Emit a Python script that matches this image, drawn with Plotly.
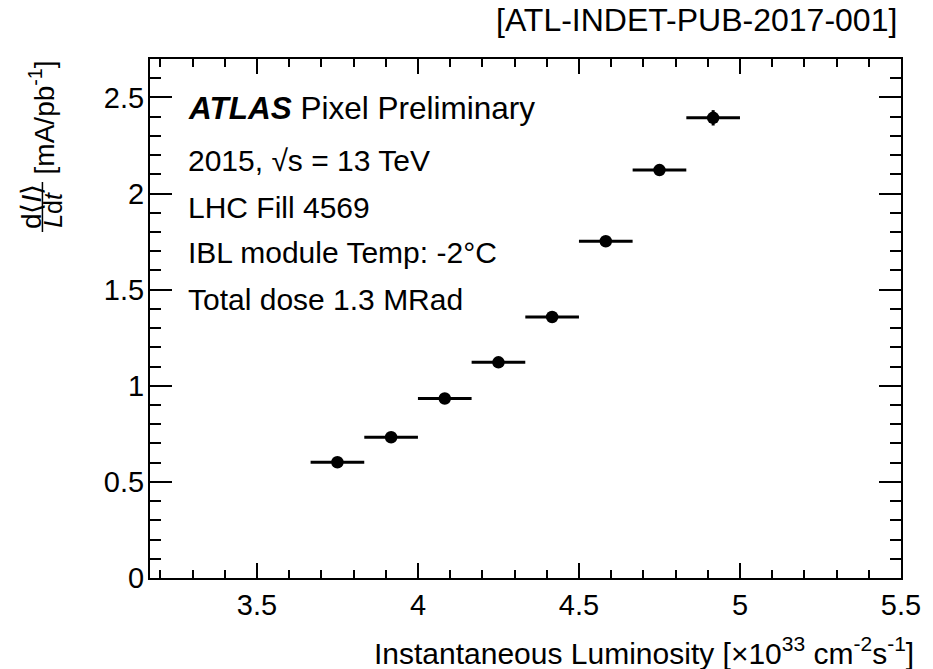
import plotly.graph_objects as go

# Measured leakage-current slope per luminosity bin (LHC Fill 4569)
lumi_centers = [3.75, 3.9167, 4.0833, 4.25, 4.4167, 4.5833, 4.75, 4.9167]
lumi_halfwidth = [0.0833, 0.0833, 0.0833, 0.0833, 0.0833, 0.0833, 0.0833, 0.0833]
current_slope = [0.602, 0.732, 0.934, 1.122, 1.358, 1.752, 2.122, 2.394]
current_err = [0.012, 0.012, 0.014, 0.015, 0.018, 0.022, 0.026, 0.04]

x_ticks = [3.5, 4.0, 4.5, 5.0, 5.5]
y_ticks = [0, 0.5, 1.0, 1.5, 2.0, 2.5]

FONT = "Liberation Sans, Arial, Helvetica, sans-serif"
W, H = 933, 669
ML, MR, MT, MB = 150, 22, 59, 91
PW, PH = W - ML - MR, H - MT - MB


def px(xp):
    return (xp - ML) / PW


def py(yp):
    return (H - MB - yp) / PH


fig = go.Figure()
fig.add_trace(go.Scatter(
    x=lumi_centers, y=current_slope, mode="markers",
    marker=dict(color="black", size=12.5, symbol="circle"),
    error_x=dict(type="data", array=lumi_halfwidth, symmetric=True,
                 color="black", thickness=3, width=0),
    error_y=dict(type="data", array=current_err, symmetric=True,
                 color="black", thickness=3, width=0),
    showlegend=False,
))

axis_common = dict(
    showline=True, linecolor="black", linewidth=2, mirror="ticks",
    ticks="inside", tickcolor="black", tickwidth=1.6,
    showgrid=False, zeroline=False,
    tickfont=dict(family=FONT, size=29, color="black"),
)

fig.update_xaxes(
    range=[3.168, 5.5], tickvals=x_ticks,
    ticktext=["3.5", "4", "4.5", "5", "5.5"], ticklen=15,
    ticklabelstandoff=0,
    minor=dict(dtick=0.1, tick0=3.0, ticks="inside", ticklen=8,
               tickwidth=1.6, tickcolor="black", showgrid=False),
    **axis_common,
)
fig.update_yaxes(
    range=[0, 2.7], tickvals=y_ticks,
    ticktext=["0", "0.5", "1", "1.5", "2", "2.5"], ticklen=22,
    ticklabelstandoff=-2,
    minor=dict(dtick=0.1, tick0=0, ticks="inside", ticklen=11,
               tickwidth=1.6, tickcolor="black", showgrid=False),
    **axis_common,
)

ann = []


def text(x, y, s, size, xanchor="left", yanchor="middle", angle=0):
    ann.append(dict(x=px(x), y=py(y), xref="paper", yref="paper", text=s,
                    showarrow=False, xanchor=xanchor, yanchor=yanchor,
                    textangle=angle,
                    font=dict(family=FONT, size=size, color="black")))


# Header lines inside the frame
text(186, 108, "<b><i>ATLAS</i></b> Pixel Preliminary", 31.5)
text(186, 160, "2015, √s = 13 TeV", 30)
text(186, 208, "LHC Fill 4569", 30)
text(186, 253, "IBL module Temp: -2°C", 30)
text(186, 299, "Total dose 1.3 MRad", 30)

# Reference tag
text(909, 20, "[ATL-INDET-PUB-2017-001]", 32, xanchor="right")

# X axis title
text(926, 651, "Instantaneous Luminosity [×10<sup>33</sup> cm<sup>-2</sup>s<sup>-1</sup>]",
     30, xanchor="right")

# Y axis title: fraction d<I>/(L dt) followed by units
text(29.5, 207, "d⟨<i>I</i>⟩", 28, xanchor="center", angle=-90)
text(51.5, 210, "<i>L</i>d<i>t</i>", 25, xanchor="center", angle=-90)
text(41, 117, "[mA/pb<sup>-1</sup>]", 28, xanchor="center", angle=-90)

fig.add_shape(type="line", xref="paper", yref="paper",
              x0=px(41), x1=px(41), y0=py(182), y1=py(232),
              line=dict(color="black", width=1.5))

fig.update_layout(
    width=W, height=H, annotations=ann,
    margin=dict(l=ML, r=MR, t=MT, b=MB, pad=0),
    paper_bgcolor="white", plot_bgcolor="white",
    font=dict(family=FONT, color="black"),
)

fig.write_html("out.html")
